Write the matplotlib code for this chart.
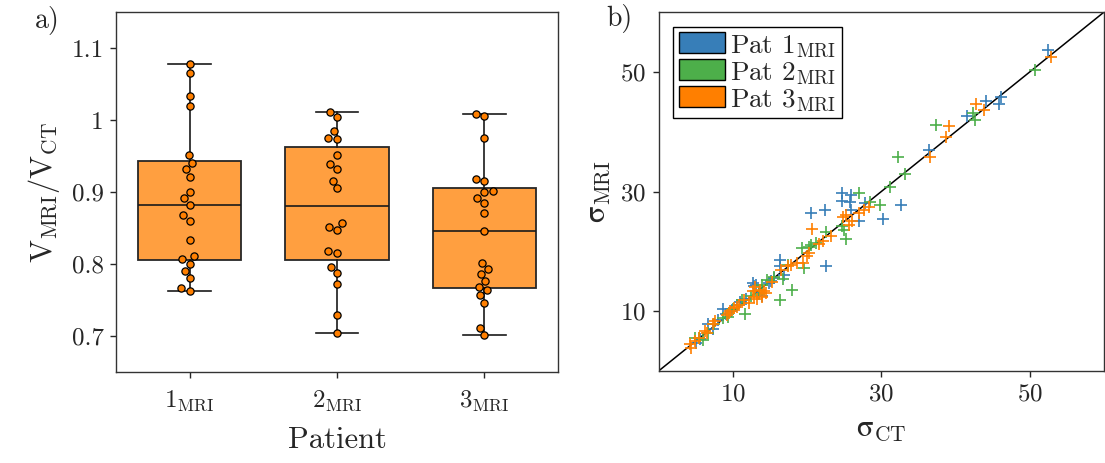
import matplotlib
matplotlib.use("Agg")
import matplotlib.pyplot as plt
from matplotlib.patches import Patch
import numpy as np
import pandas as pd
import seaborn as sns

# volume ratio MRI/CT per structure, one list per patient
ratio_p1 = [1.0783, 1.0649, 1.0339, 1.0195, 0.951, 0.932, 0.940, 0.9214, 0.8996,
            0.8913, 0.8825, 0.868, 0.8603, 0.8333, 0.807, 0.8107, 0.8005, 0.7903,
            0.7801, 0.7667, 0.7625]
ratio_p2 = [1.0107, 1.0037, 0.9843, 0.9755, 0.9732, 0.952, 0.9385, 0.932, 0.9158,
            0.9056, 0.8565, 0.8519, 0.8472, 0.8186, 0.8158, 0.7954, 0.7871, 0.7722,
            0.7297, 0.7047]
ratio_p3 = [1.0089, 1.0051, 0.975, 0.9176, 0.9149, 0.9, 0.9019, 0.8913, 0.8853,
            0.8708, 0.8458, 0.8014, 0.7926, 0.7861, 0.776, 0.7644, 0.768, 0.7565,
            0.7459, 0.7117, 0.7014]
patient_labels = [r"$1_{\mathrm{MRI}}$", r"$2_{\mathrm{MRI}}$", r"$3_{\mathrm{MRI}}$"]

# sigma CT vs sigma MRI
ct_p1 = [52.45, 46.2, 45.8, 44.05, 41.6, 36.4, 32.6, 30.2, 27.8, 27.0, 25.9, 24.75,
         24.7, 25.8, 25.9, 20.6, 22.4, 22.6, 16.35, 16.3, 16.9, 15.6, 14.9, 15.2,
         12.7, 13.1, 12.9, 13.5, 14.0, 11.8, 10.5, 9.1, 8.7, 8.0, 6.65, 5.6, 5.0,
         11.0, 9.8, 7.3]
mri_p1 = [53.7, 45.8, 44.7, 45.2, 42.6, 36.95, 27.8, 25.4, 28.1, 25.0, 29.45, 29.7,
          28.5, 28.2, 26.95, 26.5, 26.95, 17.5, 18.6, 17.5, 16.1, 15.6, 14.7, 15.0,
          14.7, 14.45, 14.2, 13.0, 12.5, 12.0, 11.0, 9.45, 10.3, 8.6, 7.8, 5.3, 4.7,
          11.6, 10.0, 7.0]
ct_p2 = [50.7, 42.4, 42.6, 37.4, 32.25, 33.15, 31.2, 29.9, 28.5, 27.0, 24.75, 25.0,
         25.2, 22.5, 21.2, 19.3, 20.5, 19.6, 16.8, 18.0, 16.4, 14.6, 11.3, 11.6, 8.7,
         5.5, 6.0, 4.9, 13.5, 12.5, 10.0, 7.5, 6.6, 14.0, 15.5, 20.3, 9.3, 17.4]
mri_p2 = [50.3, 43.1, 41.95, 41.1, 35.8, 32.95, 30.8, 27.8, 28.2, 29.8, 24.2, 23.6,
          22.1, 23.3, 21.4, 20.6, 21.1, 17.2, 15.4, 13.6, 11.95, 15.2, 11.95, 9.45,
          8.9, 5.6, 5.2, 5.5, 12.8, 12.6, 10.4, 7.9, 6.4, 14.3, 15.8, 20.8, 9.0, 17.8]
ct_p3 = [52.9, 42.8, 43.8, 39.1, 38.7, 36.6, 28.3, 27.65, 27.0, 25.2, 24.85, 26.1,
         25.65, 20.7, 23.2, 22.1, 21.6, 20.3, 20.0, 19.4, 18.6, 17.8, 17.4, 16.5,
         12.7, 13.6, 14.2, 14.5, 12.8, 13.3, 14.0, 12.2, 10.9, 10.2, 9.6, 9.2, 10.6,
         9.55, 7.55, 7.3, 6.5, 6.3, 4.9, 4.2, 4.4, 5.5, 15.3, 13.0, 11.5]
mri_p3 = [52.5, 44.7, 43.6, 40.95, 39.2, 35.8, 27.4, 26.95, 26.4, 26.1, 25.8, 25.0,
          24.45, 23.7, 22.5, 21.7, 21.3, 19.7, 19.2, 18.1, 18.1, 17.8, 17.5, 16.95,
          13.3, 13.6, 13.3, 13.0, 12.3, 12.0, 12.4, 11.4, 11.1, 10.6, 10.0, 9.4, 10.7,
          9.7, 8.3, 7.8, 6.4, 6.7, 5.0, 4.45, 3.9, 5.6, 14.8, 14.0, 11.8]

blue, green, orange = "#377eb8", "#4daf4a", "#ff7f00"
box_face = "#ff9f40"
text_col = "0.15"
edge_col = "0.2"

plt.rcParams.update({
    "font.family": "serif",
    "font.serif": ["cmr10"],
    "mathtext.fontset": "cm",
    "axes.formatter.use_mathtext": True,
    "text.color": text_col,
    "axes.labelcolor": text_col,
    "xtick.color": text_col,
    "ytick.color": text_col,
    "axes.edgecolor": edge_col,
    "axes.linewidth": 1.0,
})


def box_stats(values, label):
    # quartiles with the hazen rule, whiskers to the extreme points within 1.5 IQR
    v = np.asarray(values)
    q1, med, q3 = np.percentile(v, [25, 50, 75], method="hazen")
    iqr = q3 - q1
    lo = v[v >= q1 - 1.5 * iqr].min()
    hi = v[v <= q3 + 1.5 * iqr].max()
    return dict(med=med, q1=q1, q3=q3, whislo=lo, whishi=hi, fliers=[], label=label)


fig = plt.figure(figsize=(11.05, 4.63), dpi=100)
ax1 = fig.add_axes([0.105, 0.1965, 0.4, 0.7775])
ax2 = fig.add_axes([0.596, 0.1987, 0.403, 0.775])

# a) box plots with swarm of points
groups = [ratio_p1, ratio_p2, ratio_p3]
stats = [box_stats(g, lab) for g, lab in zip(groups, patient_labels)]
ax1.bxp(stats, positions=[0, 1, 2], widths=0.7, capwidths=0.29, patch_artist=True,
        showfliers=False,
        boxprops=dict(facecolor=box_face, edgecolor="0.15", linewidth=1.3),
        medianprops=dict(color="0.1", linewidth=1.2),
        whiskerprops=dict(color="0.1", linewidth=1.2),
        capprops=dict(color="0.1", linewidth=1.2))

df = pd.DataFrame({
    "patient": sum([[lab] * len(g) for g, lab in zip(groups, patient_labels)], []),
    "ratio": sum(groups, []),
})
sns.swarmplot(data=df, x="patient", y="ratio", ax=ax1, color=orange,
              edgecolor="black", linewidth=0.9, size=5.2, zorder=3)

ax1.set_xlim(-0.5, 2.5)
ax1.set_ylim(0.65, 1.15)
ax1.set_xticks([0, 1, 2])
ax1.set_xticklabels(patient_labels)
ax1.set_yticks([0.7, 0.8, 0.9, 1.0, 1.1])
ax1.set_yticklabels(["0.7", "0.8", "0.9", "1", "1.1"])
ax1.tick_params(labelsize=18, length=4.5, width=1.0, pad=4.5)
ax1.tick_params(axis="x", pad=7)
ax1.set_xlabel("Patient", fontsize=22, labelpad=10)
ax1.set_ylabel(r"$\mathrm{V}_{\mathrm{MRI}}/\mathrm{V}_{\mathrm{CT}}$", fontsize=22, labelpad=7)

# b) sigma scatter with identity line
ax2.plot([0, 60], [0, 60], color="black", linewidth=1.1, zorder=1)
for ct, mri, col in [(ct_p1, mri_p1, blue), (ct_p2, mri_p2, green), (ct_p3, mri_p3, orange)]:
    ax2.plot(ct, mri, linestyle="none", marker="+", markersize=8.5, markeredgewidth=1.2,
             color=col, zorder=2)
ax2.set_xlim(0, 60)
ax2.set_ylim(0, 60)
ax2.set_xticks([10, 30, 50])
ax2.set_yticks([10, 30, 50])
ax2.tick_params(labelsize=18, length=4.5, width=1.0, pad=4.5)
ax2.set_xlabel(r"$\mathrm{σ}_{\mathrm{CT}}$", fontsize=22, labelpad=7)
ax2.set_ylabel(r"$\mathrm{σ}_{\mathrm{MRI}}$", fontsize=22, labelpad=6)

handles = [Patch(facecolor=c, edgecolor="black", linewidth=1.0) for c in (blue, green, orange)]
labels = [r"Pat $1_{\mathrm{MRI}}$", r"Pat $2_{\mathrm{MRI}}$", r"Pat $3_{\mathrm{MRI}}$"]
leg = ax2.legend(handles, labels, loc="upper left", fontsize=19.5, frameon=True,
                 fancybox=False, edgecolor="black", framealpha=1, borderpad=0.2,
                 labelspacing=0.02, handlelength=1.7, handleheight=0.8,
                 handletextpad=0.2, borderaxespad=0.55)
leg.get_frame().set_linewidth(1.0)

fig.text(0.032, 0.955, "a)", fontsize=20, ha="left", va="center")
fig.text(0.549, 0.96, "b)", fontsize=20, ha="left", va="center")

fig.savefig("out.png", dpi=100)
